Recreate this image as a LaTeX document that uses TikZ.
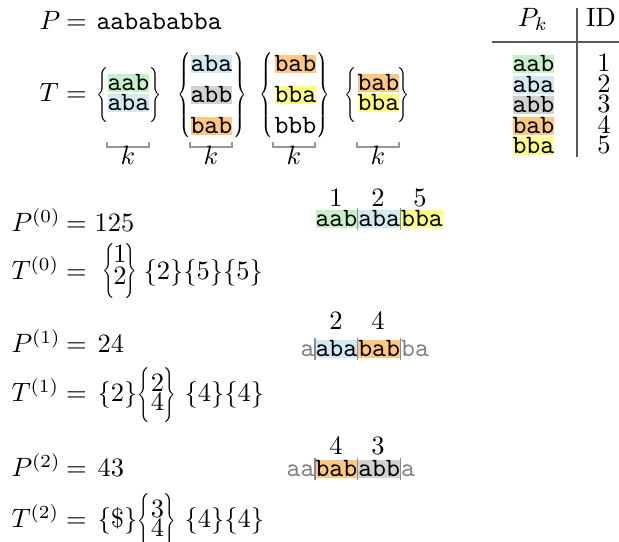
\documentclass[tikz,border=0pt]{standalone}
\usepackage{graphicx}
\definecolor{hgreen}{RGB}{200,240,200}
\definecolor{hblue}{RGB}{210,232,242}
\definecolor{hgray}{RGB}{210,210,210}
\definecolor{horange}{RGB}{255,200,128}
\definecolor{hyellow}{RGB}{255,255,130}
\definecolor{rulegray}{RGB}{150,150,150}
\newdimen\pxu \pxu=0.3774pt
\newcommand{\lbrc}[3]{\resizebox*{#1\pxu}{#2\pxu}{$\left\{\vcenter{\hbox{\rule{0pt}{#3}}}\right.\kern-\nulldelimiterspace$}}
\newcommand{\rbrc}[3]{\resizebox*{#1\pxu}{#2\pxu}{$\kern-\nulldelimiterspace\left.\vcenter{\hbox{\rule{0pt}{#3}}}\right\}$}}
\tikzset{
  txt/.style={inner sep=0pt, anchor=base west},
  ctxt/.style={inner sep=0pt, anchor=base},
  hl/.style={inner sep=0pt, text height=6.3pt, text depth=0.5pt, font=\ttfamily, fill=#1, anchor=base west},
  ttx/.style={inner sep=0pt, text height=6.3pt, text depth=0.5pt, font=\ttfamily, anchor=base west},
  faded/.style={ttx, text=black!50},
  brc/.style={inner sep=0pt, anchor=north west},
  brcr/.style={inner sep=0pt, anchor=north east},
  sepline/.style={draw=black!45, line width=0.5pt, shorten <=-0.6pt, shorten >=-0.6pt},
  kbr/.style={draw=rulegray, line width=0.5pt},
  tline/.style={draw=black!65, line width=0.4pt}
}
\begin{document}
\begin{tikzpicture}[x=0.3774pt,y=-0.3774pt]
\useasboundingbox (0,0) rectangle (619,542);
% top: P and T
\node[txt] (Pt) at (39,30) {$P$};
\node[txt] (eqP) at (65.5,30) {$=$};
\node[txt,font=\ttfamily] (Pstr) at (96,30) {aabababba};
\node[txt] (Tt) at (39,102) {$T$};
\node[txt] (eqT) at (65.5,102) {$=$};
% group 1
\node[brc] (g1l) at (95.5,67) {\lbrc{12}{55}{24pt}};
\node[hl=hgreen] (g1a) at (107,91) {aab};
\node[hl=hblue] (g1b) at (107,111) {aba};
\node[brcr] (g1r) at (162.5,67) {\rbrc{12}{55}{24pt}};
% group 2
\node[brc] (g2l) at (176.5,52) {\lbrc{13.5}{85}{36pt}};
\node[hl=hblue] (g2a) at (190,72) {aba};
\node[hl=hgray] (g2b) at (190,103) {abb};
\node[hl=horange] (g2c) at (190,134) {bab};
\node[brcr] (g2r) at (247.5,52) {\rbrc{13.5}{85}{36pt}};
% group 3
\node[brc] (g3l) at (258.5,52) {\lbrc{13.5}{85}{36pt}};
\node[hl=horange] (g3a) at (274,72) {bab};
\node[hl=hyellow] (g3b) at (274,103) {bba};
\node[ttx] (g3c) at (274,134) {bbb};
\node[brcr] (g3r) at (330.5,52) {\rbrc{13.5}{85}{36pt}};
% group 4
\node[brc] (g4l) at (343.5,67) {\lbrc{12}{55}{24pt}};
\node[hl=horange] (g4a) at (357,91) {bab};
\node[hl=hyellow] (g4b) at (357,111) {bba};
\node[brcr] (g4r) at (410.5,67) {\rbrc{12}{55}{24pt}};
% k brackets
\draw[kbr] (107,142) -- (107,147) -- (149,147) -- (149,142);
\draw[kbr] (190,142) -- (190,147) -- (232,147) -- (232,142);
\draw[kbr] (273,142) -- (273,147) -- (315,147) -- (315,142);
\draw[kbr] (357,142) -- (357,147) -- (399,147) -- (399,142);
\node[ctxt] (k1) at (128,165) {$k$};
\node[ctxt] (k2) at (211,165) {$k$};
\node[ctxt] (k3) at (294,165) {$k$};
\node[ctxt] (k4) at (378,165) {$k$};
% table
\node[ctxt] (hP) at (533,27) {$P_k$};
\node[ctxt] (hID) at (601,27) {ID};
\coordinate (vt) at (577,8);
\coordinate (vb) at (577,157);
\coordinate (hlft) at (492,42);
\coordinate (hrgt) at (619,42);
\draw[tline] (vt) -- (vb);
\draw[tline] (hlft) -- (hrgt);
\node[hl=hgreen] (t1) at (512,72) {aab};
\node[hl=hblue] (t2) at (512,92.5) {aba};
\node[hl=hgray] (t3) at (512,113) {abb};
\node[hl=horange] (t4) at (512,133.5) {bab};
\node[hl=hyellow] (t5) at (512,154) {bba};
\node[ctxt] (n1) at (604,72) {1};
\node[ctxt] (n2) at (604,92.5) {2};
\node[ctxt] (n3) at (604,113) {3};
\node[ctxt] (n4) at (604,133.5) {4};
\node[ctxt] (n5) at (604,154) {5};
% level 0
\node[txt] (P0) at (11,232) {$P^{(0)}$};
\node[txt] (e0) at (65.5,232) {$=$};
\node[txt] (v0) at (94,232) {$125$};
\node[txt] (T0) at (11,280) {$T^{(0)}$};
\node[txt] (e0b) at (65.5,280) {$=$};
\node[brc] (T0l) at (101.5,243) {\lbrc{12.5}{55}{24pt}};
\node[ctxt] (T0x) at (120,263) {$1$};
\node[ctxt] (T0y) at (120,285) {$2$};
\node[brcr] (T0r) at (137.5,243) {\rbrc{12.5}{55}{24pt}};
\node[txt] (T0s) at (143,280) {$\{2\}\{5\}\{5\}$};
% level 1
\node[txt] (P1) at (11,353) {$P^{(1)}$};
\node[txt] (e1) at (65.5,353) {$=$};
\node[txt] (v1) at (97,353) {$24$};
\node[txt] (T1) at (11,402) {$T^{(1)}$};
\node[txt] (e1b) at (65.5,402) {$=$};
\node[txt] (T1a) at (97,402) {$\{2\}$};
\node[brc] (T1l) at (136.5,367) {\lbrc{12.5}{55}{24pt}};
\node[ctxt] (T1x) at (157.5,392) {$2$};
\node[ctxt] (T1y) at (157.5,411) {$4$};
\node[brcr] (T1r) at (176.5,367) {\rbrc{12.5}{55}{24pt}};
\node[txt] (T1s) at (184,402) {$\{4\}\{4\}$};
% level 2
\node[txt] (P2) at (11,477) {$P^{(2)}$};
\node[txt] (e2) at (65.5,477) {$=$};
\node[txt] (v2) at (97,477) {$43$};
\node[txt] (T2) at (11,528) {$T^{(2)}$};
\node[txt] (e2b) at (65.5,528) {$=$};
\node[txt] (T2a) at (97,528) {$\{\$\}$};
\node[brc] (T2l) at (136.5,493) {\lbrc{12.5}{55}{24pt}};
\node[ctxt] (T2x) at (157.5,518) {$3$};
\node[ctxt] (T2y) at (157.5,537) {$4$};
\node[brcr] (T2r) at (176.5,493) {\rbrc{12.5}{55}{24pt}};
\node[txt] (T2s) at (184,528) {$\{4\}\{4\}$};
% strings on the right
\node[hl=hgreen] (r0a) at (315,227) {aab};
\node[hl=hblue] (r0b) at (r0a.base east) {aba};
\node[hl=hyellow] (r0c) at (r0b.base east) {bba};
\node[ctxt] (l0a) at (336,207) {$1$};
\node[ctxt] (l0b) at (378,207) {$2$};
\node[ctxt] (l0c) at (420,207) {$5$};
\node[hl=hblue] (r1a) at (315,357) {aba};
\node[hl=horange] (r1b) at (r1a.base east) {bab};
\node[faded, anchor=base east] (r1p) at (r1a.base west) {a};
\node[faded] (r1s) at (r1b.base east) {ba};
\node[ctxt] (l1a) at (336,330) {$2$};
\node[ctxt] (l1b) at (378,330) {$4$};
\node[hl=horange] (r2a) at (315,477) {bab};
\node[hl=hgray] (r2b) at (r2a.base east) {abb};
\node[faded, anchor=base east] (r2p) at (r2a.base west) {aa};
\node[faded] (r2s) at (r2b.base east) {a};
\node[ctxt] (l2a) at (336,455) {$4$};
\node[ctxt] (l2b) at (378,455) {$3$};
\draw[sepline] (r0a.north east) -- (r0a.south east);
\draw[sepline] (r0b.north east) -- (r0b.south east);
\draw[sepline] (r1a.north west) -- (r1a.south west);
\draw[sepline] (r1a.north east) -- (r1a.south east);
\draw[sepline] (r1b.north east) -- (r1b.south east);
\draw[sepline] (r2a.north west) -- (r2a.south west);
\draw[sepline] (r2a.north east) -- (r2a.south east);
\draw[sepline] (r2b.north east) -- (r2b.south east);
\end{tikzpicture}
\end{document}
